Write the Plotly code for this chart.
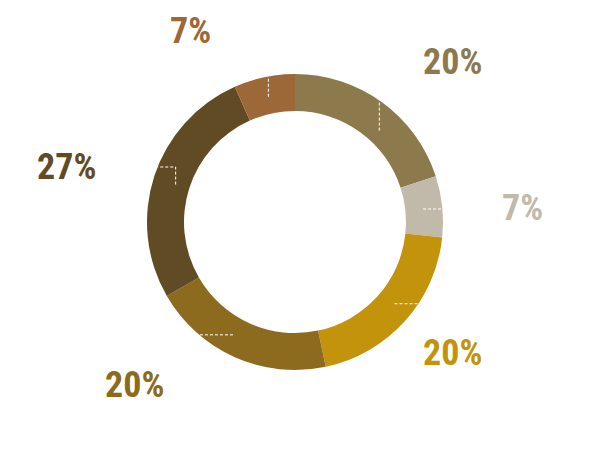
import math
import plotly.graph_objects as go

# ---- data ----
categories = ["A", "B", "C", "D", "E", "F"]
values = [3, 1, 3, 3, 4, 1]
colors = ["#8C7A4D", "#C1BAAB", "#C2930B", "#8C6B1E", "#614B25", "#9C6838"]

# ---- layout constants (pixels) ----
W, H = 591, 453
CX, CY, R = 295, 222, 148
HOLE = 0.75
# leader anchor: angular nudge (deg) from slice middle, and radius fraction
TICK_NUDGE = [6.7, 0.2, -2.6, 4.8, -0.6, 0.0]
TICK_RF = [0.84, 0.87, 0.87, 0.87, 0.845, 0.865]
# label centre positions (pixels) and leader style per slice
LABEL_XY = [(452, 62), (522, 208), (452, 353), (134, 385), (66, 167), (190, 31)]
LEADER_KIND = ["v", "h", "h", "h", "L", "v"]


def px(x):
    return x / W


def py(y):
    return 1 - y / H


total = sum(values)
pcts = [round(v / total * 100) for v in values]

fig = go.Figure(
    go.Pie(
        labels=categories,
        values=values,
        hole=HOLE,
        sort=False,
        direction="clockwise",
        rotation=0,
        marker=dict(colors=colors, line=dict(width=0)),
        textinfo="none",
        hoverinfo="label+percent",
        domain=dict(x=[px(CX - R), px(CX + R)], y=[py(CY + R), py(CY - R)]),
    )
)

shapes = []
annotations = []
cum = 0
for i, v in enumerate(values):
    mid = (cum + v / 2) / total * 2 * math.pi + math.radians(TICK_NUDGE[i])
    cum += v
    tr = TICK_RF[i] * R
    ax = CX + tr * math.sin(mid)
    ay = CY - tr * math.cos(mid)
    lx, ly = LABEL_XY[i]
    kind = LEADER_KIND[i]
    if kind == "v":
        ey = CY - math.sqrt(max(R * R - (ax - CX) ** 2, 0))
        pts = [(ax, ay), (ax, ey)]
    elif kind == "h":
        ex = CX + math.copysign(math.sqrt(max(R * R - (ay - CY) ** 2, 0)), lx - CX)
        pts = [(ax, ay), (ex, ay)]
    else:
        ex = CX - math.sqrt(max(R * R - (ly - CY) ** 2, 0))
        pts = [(ax, ay), (ax, ly), (ex, ly)]
    path = "M " + " L ".join(f"{px(x):.5f},{py(y):.5f}" for x, y in pts)
    shapes.append(
        dict(
            type="path",
            path=path,
            xref="paper",
            yref="paper",
            line=dict(color="white", width=1, dash="3px,2px"),
            layer="above",
        )
    )
    annotations.append(
        dict(
            x=px(lx),
            y=py(ly),
            xref="paper",
            yref="paper",
            text=f"{pcts[i]}%",
            showarrow=False,
            xanchor="center",
            yanchor="middle",
            font=dict(
                family="Roboto Condensed, Liberation Sans Narrow, sans-serif",
                size=36,
                weight="bold",
                color=colors[i],
            ),
        )
    )

fig.update_layout(
    width=W,
    height=H,
    margin=dict(l=0, r=0, t=0, b=0),
    paper_bgcolor="white",
    plot_bgcolor="white",
    showlegend=False,
    shapes=shapes,
    annotations=annotations,
)

fig.write_html(
    "out.html",
    config={"displayModeBar": False},
    post_script="document.body.style.margin='0';",
)
